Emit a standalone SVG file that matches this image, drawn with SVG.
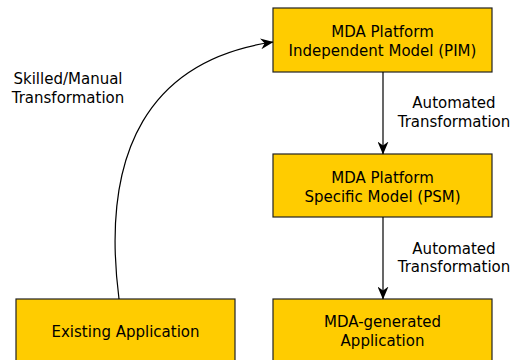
<svg xmlns="http://www.w3.org/2000/svg" width="512" height="360" viewBox="0 0 512 360">
  <defs>
    <!-- notched arrow tip shared by all connectors -->
    <marker id="tip" viewBox="0 0 13 11" refX="12.5" refY="5.5" markerWidth="13" markerHeight="11" markerUnits="userSpaceOnUse" orient="auto">
      <path d="M0,0 L13,5.5 L0,11 L4,5.5 Z" fill="#000"/>
    </marker>
    <style>
      .box { fill: #FFCC00; stroke: #222; stroke-width: 1.2; }
      .lbl { font-family: "DejaVu Sans", Verdana, sans-serif; font-size: 15px; fill: #000; text-anchor: middle; }
      .edge { fill: none; stroke: #000; stroke-width: 1.2; marker-end: url(#tip); }
    </style>
  </defs>
  <rect width="512" height="360" fill="#fff"/>

  <g id="pim">
    <rect class="box" x="273" y="8" width="219" height="64"/>
    <text class="lbl" x="382.5" y="37">MDA Platform</text>
    <text class="lbl" x="382.5" y="55.5">Independent Model (PIM)</text>
  </g>

  <g id="psm">
    <rect class="box" x="273" y="154" width="219" height="63"/>
    <text class="lbl" x="382.5" y="183">MDA Platform</text>
    <text class="lbl" x="382.5" y="201.5">Specific Model (PSM)</text>
  </g>

  <g id="existing">
    <rect class="box" x="16" y="299" width="219" height="70"/>
    <text class="lbl" x="125.5" y="337">Existing Application</text>
  </g>

  <g id="generated">
    <rect class="box" x="273" y="299" width="219" height="70"/>
    <text class="lbl" x="382.5" y="327">MDA-generated</text>
    <text class="lbl" x="382.5" y="346">Application</text>
  </g>

  <g id="connectors">
    <path class="edge" d="M383,72 L383,154"/>
    <path class="edge" d="M383,217 L383,299"/>
    <path class="edge" d="M119,299 C100,150 150,60 273,42"/>
    <text class="lbl" x="454" y="108">Automated</text>
    <text class="lbl" x="454" y="126.5">Transformation</text>
    <text class="lbl" x="454" y="253.5">Automated</text>
    <text class="lbl" x="454" y="272">Transformation</text>
    <text class="lbl" x="68" y="84">Skilled/Manual</text>
    <text class="lbl" x="68" y="103">Transformation</text>
  </g>
</svg>
